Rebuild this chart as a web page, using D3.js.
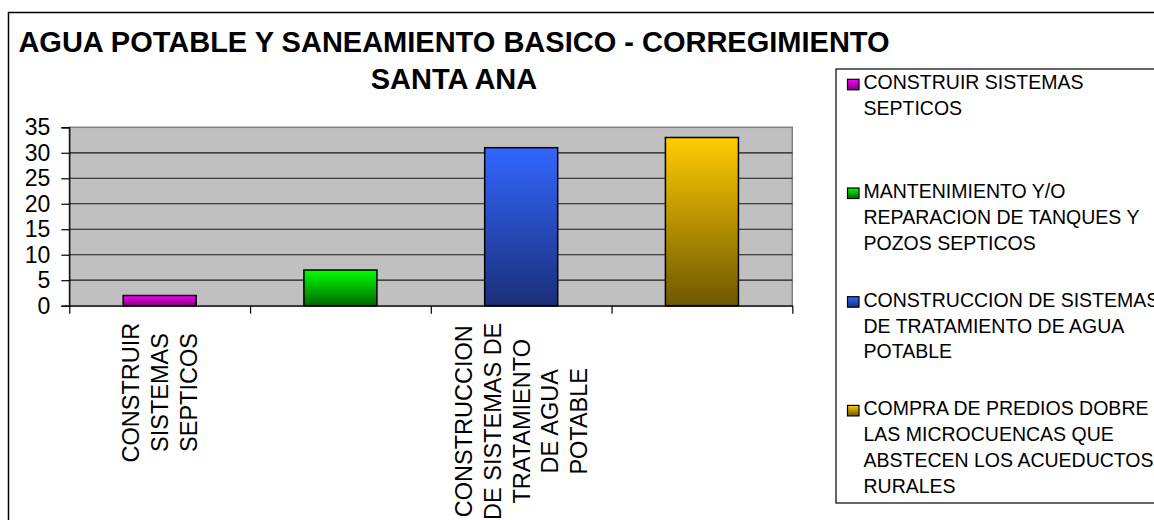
<!DOCTYPE html>
<html>
<head>
<meta charset="utf-8">
<script src="https://cdn.jsdelivr.net/npm/d3@7"></script>
<style>
  body { margin: 0; background: #fff; }
  svg { display: block; font-family: "Liberation Sans", Arial, sans-serif; }
</style>
</head>
<body>
<div id="chart"></div>
<script>
// data
var categories = [
  "CONSTRUIR SISTEMAS SEPTICOS",
  "MANTENIMIENTO Y/O REPARACION DE TANQUES Y POZOS SEPTICOS",
  "CONSTRUCCION DE SISTEMAS DE TRATAMIENTO DE AGUA POTABLE",
  "COMPRA DE PREDIOS DOBRE LAS MICROCUENCAS QUE ABSTECEN LOS ACUEDUCTOS RURALES"
];
var values = [2, 7, 31, 33];
var yTicks = [0, 5, 10, 15, 20, 25, 30, 35];
// wrapped lines as they appear under the axis (only every other category is labelled)
var axisLabelLines = [
  ["CONSTRUIR", "SISTEMAS", "SEPTICOS"],
  null,
  ["CONSTRUCCION", "DE SISTEMAS DE", "TRATAMIENTO", "DE AGUA", "POTABLE"],
  null
];
var legendLines = [
  ["CONSTRUIR SISTEMAS", "SEPTICOS"],
  ["MANTENIMIENTO Y/O", "REPARACION DE TANQUES Y", "POZOS SEPTICOS"],
  ["CONSTRUCCION DE SISTEMAS", "DE TRATAMIENTO DE AGUA", "POTABLE"],
  ["COMPRA DE PREDIOS DOBRE", "LAS MICROCUENCAS QUE", "ABSTECEN LOS ACUEDUCTOS", "RURALES"]
];
var titleLines = ["AGUA POTABLE Y SANEAMIENTO BASICO - CORREGIMIENTO", "SANTA ANA"];
var barColors = [
  ["#ff00ff", "#7a007a"],
  ["#00ff00", "#006800"],
  ["#3366ff", "#1a2f78"],
  ["#ffcc00", "#6e5800"]
];

var W = 1154, H = 520;
var plot = {left: 69.3, right: 792.3, top: 127.3, bottom: 305.7};

var svg = d3.select("#chart").append("svg")
    .attr("width", W)
    .attr("height", H);

var defs = svg.append("defs");
barColors.forEach(function(c, i) {
  var g = defs.append("linearGradient")
      .attr("id", "grad" + i)
      .attr("x1", 0).attr("y1", 0).attr("x2", 0).attr("y2", 1);
  g.append("stop").attr("offset", "0%").attr("stop-color", c[0]);
  g.append("stop").attr("offset", "100%").attr("stop-color", c[1]);
});

// chart area border
svg.append("rect")
    .attr("x", 8.5).attr("y", 12.5)
    .attr("width", 1400).attr("height", 800)
    .attr("fill", "#fff")
    .attr("stroke", "#000")
    .attr("stroke-width", 1.5);

// title
svg.selectAll(".title")
    .data(titleLines)
    .enter().append("text")
    .attr("class", "title")
    .attr("x", 454)
    .attr("y", function(d, i) { return 52 + i * 36.5; })
    .attr("text-anchor", "middle")
    .style("font-size", "29px")
    .style("font-weight", "bold")
    .text(function(d) { return d; });

var x = d3.scaleBand()
    .domain(categories)
    .range([plot.left, plot.right]);

var xEdge = d3.scaleLinear()
    .domain([0, categories.length])
    .range([plot.left, plot.right]);

var y = d3.scaleLinear()
    .domain([0, 35])
    .range([plot.bottom, plot.top]);

// plot area
svg.append("rect")
    .attr("x", plot.left).attr("y", plot.top)
    .attr("width", plot.right - plot.left)
    .attr("height", plot.bottom - plot.top)
    .attr("fill", "#c0c0c0")
    .attr("stroke", "#808080")
    .attr("stroke-width", 1.5);

svg.append("g")
    .selectAll("line")
    .data(yTicks.filter(function(t) { return t > 0 && t < 35; }))
    .enter().append("line")
    .attr("x1", plot.left).attr("x2", plot.right)
    .attr("y1", function(d) { return y(d); })
    .attr("y2", function(d) { return y(d); })
    .attr("stroke", "#1a1a1a")
    .attr("stroke-width", 1.2);

// bars
var barW = x.bandwidth() * 0.404;
svg.append("g")
    .selectAll("rect")
    .data(values)
    .enter().append("rect")
    .attr("x", function(d, i) { return x(categories[i]) + (x.bandwidth() - barW) / 2; })
    .attr("y", function(d) { return y(d); })
    .attr("width", barW)
    .attr("height", function(d) { return y(0) - y(d); })
    .attr("fill", function(d, i) { return "url(#grad" + i + ")"; })
    .attr("stroke", "#000")
    .attr("stroke-width", 1.5);

// y axis
var yAxis = d3.axisLeft(y)
    .tickValues(yTicks)
    .tickSize(8)
    .tickPadding(11);

var gy = svg.append("g")
    .attr("transform", "translate(" + plot.left + ",0)")
    .call(yAxis);
gy.select(".domain").attr("stroke", "#000").attr("stroke-width", 1.2);
gy.selectAll(".tick line").attr("stroke", "#000").attr("stroke-width", 1.2);
gy.selectAll(".tick text")
    .attr("fill", "#000")
    .style("font-size", "23px")
    .style("font-family", "'Liberation Sans', Arial, sans-serif");

// x axis: ticks at category boundaries
var xAxis = d3.axisBottom(xEdge)
    .tickValues(d3.range(categories.length + 1))
    .tickFormat("")
    .tickSizeInner(8)
    .tickSizeOuter(0);

var gx = svg.append("g")
    .attr("transform", "translate(0," + plot.bottom + ")")
    .call(xAxis);
gx.select(".domain").attr("stroke", "#000").attr("stroke-width", 1.2);
gx.selectAll(".tick line").attr("stroke", "#000").attr("stroke-width", 1.2);

// rotated category labels, top aligned below the axis, lines centred
var lineH = 28.7;
axisLabelLines.forEach(function(lines, i) {
  if (!lines) return;
  var cx = x(categories[i]) + x.bandwidth() / 2;
  var g = svg.append("g")
      .attr("transform", "translate(" + cx + "," + (plot.bottom + 17) + ") rotate(-90)");
  var t = g.selectAll("text")
      .data(lines)
      .enter().append("text")
      .attr("text-anchor", "middle")
      .attr("y", function(d, j) { return (j - (lines.length - 1) / 2) * lineH + 8.5; })
      .style("font-size", "23.5px")
      .text(function(d) { return d; });
  var maxLen = d3.max(t.nodes(), function(n) { return n.getComputedTextLength(); });
  t.attr("x", -maxLen / 2);
});

// legend
var legend = svg.append("g");
legend.append("rect")
    .attr("x", 836).attr("y", 69)
    .attr("width", 400).attr("height", 434)
    .attr("fill", "#fff")
    .attr("stroke", "#000")
    .attr("stroke-width", 1.2);

var entryGap = 108.7, legendLineH = 25.8;
legendLines.forEach(function(lines, i) {
  var base = 89.3 + i * entryGap;
  legend.append("rect")
      .attr("x", 847.5).attr("y", base - 10)
      .attr("width", 11.5).attr("height", 10.5)
      .attr("fill", "url(#grad" + i + ")")
      .attr("stroke", "#000")
      .attr("stroke-width", 1.2);
  legend.selectAll(".l" + i)
      .data(lines)
      .enter().append("text")
      .attr("x", 863.5)
      .attr("y", function(d, j) { return base + j * legendLineH; })
      .style("font-size", "19.5px")
      .text(function(d) { return d; });
});
</script>
</body>
</html>
